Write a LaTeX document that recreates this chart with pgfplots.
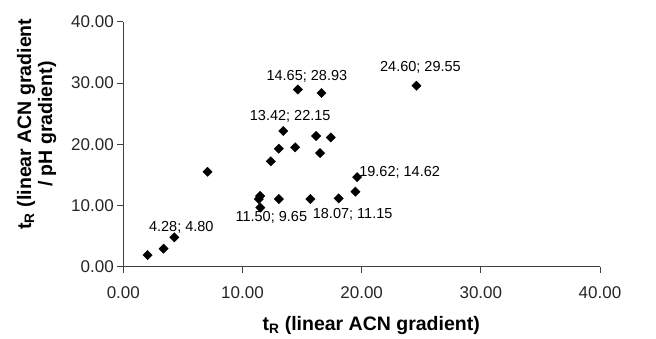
\documentclass[border=0pt]{standalone}
\usepackage{pgfplots}
\pgfplotsset{compat=1.18}
\usepackage{fontspec}
\setmainfont{Liberation Sans}

\begin{document}
\begin{tikzpicture}
\begin{axis}[
  scale only axis,
  width=476.7pt, height=245pt,
  xmin=0, xmax=40, ymin=0, ymax=40,
  axis x line=bottom, axis y line=left,
  axis line style={black!75, line width=0.8pt, -},
  xtick={0,10,20,30,40}, ytick={0,10,20,30,40},
  tick align=outside, major tick length=6pt,
  tick style={black!75, line width=0.8pt},
  /pgf/number format/assume math mode=true,
  /pgf/number format/.cd, fixed, fixed zerofill, precision=2, /pgfplots/.cd,
  ticklabel style={font=\fontsize{17}{20}\selectfont, text=black!85},
  xticklabel style={yshift=-10pt},
  xlabel={\textbf{t\textsubscript{R} (linear ACN gradient)}},
  xlabel style={font=\fontsize{19.5}{22}\selectfont, at={(axis description cs:0.52,-0.24)}, anchor=center},
  ylabel={\textbf{t\textsubscript{R} (linear ACN gradient}\\\textbf{/ pH gradient)}},
  ylabel style={font=\fontsize{19.5}{21}\selectfont, align=center, at={(axis description cs:-0.182,0.582)}, anchor=center},
  clip=false,
]
% retention times, one point per peptide
\addplot[only marks, mark=square*, mark size=3.3pt, black,
         every mark/.append style={rotate=45}] coordinates {
  (2.04,1.90) (3.38,2.94) (4.28,4.80) (7.07,15.50)
  (11.37,11.05) (11.48,11.54) (11.50,9.65) (13.05,11.05)
  (15.70,11.05) (18.07,11.15) (19.48,12.25) (19.62,14.62)
  (12.38,17.20) (13.05,19.27) (13.42,22.15) (14.42,19.49)
  (16.18,21.34) (16.51,18.56) (17.41,21.10)
  (14.65,28.93) (16.63,28.36) (24.60,29.55)
};
% value labels
\begin{scope}[every node/.style={font=\fontsize{14.5}{16}\selectfont, inner sep=0pt}]
\node at (axis cs:4.28,4.80)   [xshift=7pt,  yshift=10pt]  {4.28; 4.80};
\node at (axis cs:11.50,9.65)  [xshift=11pt, yshift=-10pt] {11.50; 9.65};
\node at (axis cs:18.07,11.15) [xshift=14pt, yshift=-16pt] {18.07; 11.15};
\node at (axis cs:19.62,14.62) [anchor=west, xshift=2pt, yshift=5pt] {19.62; 14.62};
\node at (axis cs:13.42,22.15) [xshift=7pt,  yshift=15pt]  {13.42; 22.15};
\node at (axis cs:14.65,28.93) [xshift=9pt,  yshift=13pt]  {14.65; 28.93};
\node at (axis cs:24.60,29.55) [xshift=4pt,  yshift=18pt]  {24.60; 29.55};
\end{scope}
\end{axis}
\pgfresetboundingbox
\path (current axis.south west) ++(-123.3pt,-72.3pt) rectangle ++(656pt,339pt);
\end{tikzpicture}
\end{document}
